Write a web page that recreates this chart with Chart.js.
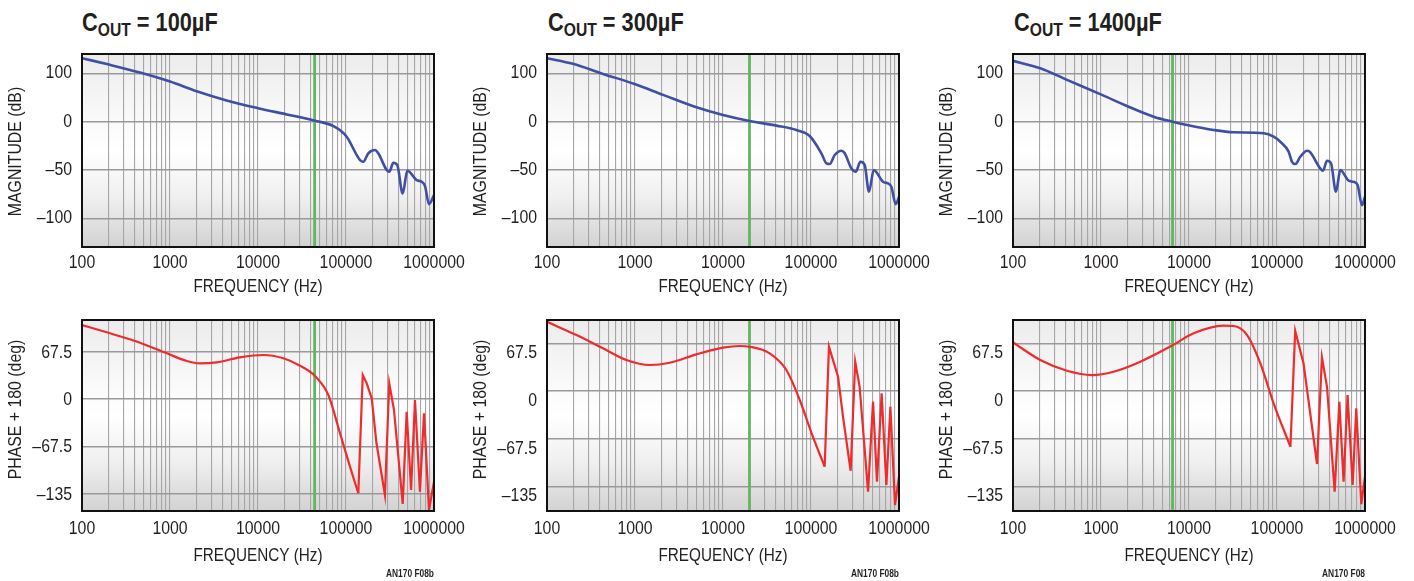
<!DOCTYPE html>
<html>
<head>
<meta charset="utf-8">
<script src="https://cdn.jsdelivr.net/npm/chart.js@4.4.1/dist/chart.umd.min.js"></script>
<style>
  body { margin:0; width:1414px; height:581px; background:#fff; position:relative; overflow:hidden; }
  canvas { position:absolute; }
  .ttl { position:absolute; top:8px; font:bold 25px "Liberation Sans",Arial,sans-serif; color:#231f20; white-space:nowrap;
         transform:scaleX(0.87); transform-origin:left top; }
  .ttl sub { font-size:18px; vertical-align:-5px; line-height:0; }
  .note { position:absolute; top:567px; font:bold 10.5px "Liberation Sans",Arial,sans-serif; color:#231f20; white-space:nowrap;
          transform:scaleX(0.8); transform-origin:right top; text-align:right; width:100px; }
</style>
</head>
<body>
<div class="ttl" style="left:82px">C<sub>OUT</sub> = 100µF</div>
<div class="ttl" style="left:548px">C<sub>OUT</sub> = 300µF</div>
<div class="ttl" style="left:1014px">C<sub>OUT</sub> = 1400µF</div>

<canvas id="mag1" width="470" height="270" style="left:0px;top:40px"></canvas>
<canvas id="mag2" width="470" height="270" style="left:465px;top:40px"></canvas>
<canvas id="mag3" width="470" height="270" style="left:931px;top:40px"></canvas>
<canvas id="ph1" width="470" height="281" style="left:0px;top:300px"></canvas>
<canvas id="ph2" width="470" height="281" style="left:465px;top:300px"></canvas>
<canvas id="ph3" width="470" height="281" style="left:931px;top:300px"></canvas>

<div class="note" style="left:334px">AN170 F08b</div>
<div class="note" style="left:799px">AN170 F08b</div>
<div class="note" style="left:1265px">AN170 F08</div>

<script>
// ---- データ ----
// 周波数グリッド / 目盛
const gridFreqs = [];
[100, 1000, 10000, 100000].forEach(d => { for (let k = 1; k < 10; k++) gridFreqs.push(d * k); });
gridFreqs.push(1000000);
const freqTicks = [100, 1000, 10000, 100000, 1000000];
const freqTickLabels = ["100", "1000", "10000", "100000", "1000000"];

const magTicks = [-100, -50, 0, 50];
const magTickLabels = ["–100", "–50", "0", "100"];
const phTicks = [-135, -67.5, 0, 67.5];
const phTickLabels = ["–135", "–67.5", "0", "67.5"];

// クロスオーバー周波数 (緑線)
const crossFreqs = [44000, 20000, 6500];
// 位相の共振部分(直線で結ぶ)の開始周波数
const phaseKinkFreqs = [138000, 143000, 142000];

// COUT = 100µF
const fMag1 = [100, 208, 456, 1000, 2010, 4400, 10000, 21200, 44400, 71700, 101800, 132400, 144300, 157300, 179200, 213600, 232800, 290000, 310500, 344800, 382800, 440900, 497500, 635600, 724800, 790600, 877500, 1000000];
const mag1 = [65.7, 58.8, 50.8, 41.5, 31.5, 22, 14, 7.5, 1, -4.5, -15.5, -34.5, -39.7, -41.5, -32.7, -29.3, -32.7, -50, -51.8, -42.5, -44.9, -74.2, -50.8, -60.4, -62.2, -66.6, -85.3, -76];
const fPh1 = [100, 208, 456, 920, 1550, 2190, 3390, 6240, 11500, 19400, 30000, 44400, 63000, 85500, 111000, 138000, 155000, 172000, 196000, 222000, 277000, 310000, 351000, 441000, 489000, 549000, 608000, 692000, 770000, 877000, 1000000];
const ph1 = [105.3, 93.5, 80.1, 65, 54.1, 50.8, 52.2, 59.3, 62.6, 57.9, 47.4, 32.7, 5.7, -48.8, -96.3, -134.2, 34.2, 22.3, 1, -63, -136.6, 22.3, -15.7, -149.4, -18.1, -129.5, -1.4, -131.9, -20.4, -158, -117.7];

// COUT = 300µF
const fMag2 = [100, 197, 433, 990, 2090, 4990, 10000, 20000, 40500, 68200, 96600, 131200, 149600, 163100, 185900, 221500, 241600, 287700, 322100, 364200, 407600, 456000, 515800, 658000, 750000, 819700, 917500, 1000000];
const mag2 = [65.7, 59.8, 49.4, 39, 27.7, 14.9, 6.9, 0.7, -4.1, -8.6, -14.8, -32.7, -43.1, -43.8, -34.5, -30, -32.7, -48.3, -51.8, -41.5, -44.9, -72.5, -50, -62.2, -63.9, -67.4, -85.3, -77.7];
const fPh2 = [100, 216, 433, 798, 1470, 2480, 4990, 10000, 15500, 20000, 33900, 52500, 74500, 105000, 143000, 160000, 203000, 231000, 282000, 318000, 357000, 445000, 507000, 562000, 635000, 719000, 798000, 901000, 1000000];
const ph2 = [98, 79.2, 60.4, 43.9, 36.8, 40, 51.9, 61.3, 63.7, 62.7, 53.3, 29.7, -12.7, -64.7, -107, 62.7, 20.2, -36.4, -112.8, 41.5, 6, -142.5, -15.1, -128.3, -3.3, -133, -22.2, -161.3, -121.3];

// COUT = 1400µF
const fMag3 = [100, 204, 411, 1026, 2060, 3960, 6500, 9500, 19000, 32100, 70500, 91500, 109000, 135600, 148000, 161400, 184000, 219000, 235000, 310000, 333000, 370000, 411000, 468000, 524000, 651000, 741000, 824000, 924000, 1000000];
const mag3 = [62.9, 55.3, 43.2, 27.7, 15.5, 5.2, 0, -3.4, -8.6, -11, -12, -15.5, -20.7, -31, -41.5, -43.8, -36.3, -30, -31, -48.3, -50.8, -40.4, -43, -72.5, -50, -61, -62.2, -65.6, -86.3, -77.7];
const fPh3 = [100, 204, 411, 790, 1390, 2800, 6300, 11300, 24700, 32100, 45700, 64700, 91500, 142000, 161000, 200000, 285000, 324000, 370000, 452000, 511000, 571000, 634000, 724000, 795000, 908000, 1000000];
const ph3 = [68.8, 43.9, 28.7, 22.6, 27.3, 41.5, 63.7, 81.6, 92.4, 92, 79.2, 39.2, -17.4, -78.8, 85.3, 39.2, -103.3, 47.7, 6, -142.5, -15.1, -128.3, -5.7, -133, -24.5, -160, -121.3];

// ---- 描画 ----
const FONT = '"Liberation Sans", Arial, sans-serif';
const INK = "#231f20";

// 縦長(コンデンス)文字
function condText(ctx, text, x, y, align, sx, rotate) {
  ctx.save();
  ctx.translate(x, y);
  if (rotate) ctx.rotate(-Math.PI / 2);
  ctx.scale(sx, 1);
  ctx.textAlign = align;
  ctx.textBaseline = "middle";
  ctx.fillText(text, 0, 0);
  ctx.restore();
}

// 背景グラデーション・枠線・文字
const frame = {
  id: "frame",
  beforeDraw(chart) {
    const { ctx, chartArea: a } = chart;
    const g = ctx.createLinearGradient(0, a.top, 0, a.bottom);
    g.addColorStop(0, "#ececec");
    g.addColorStop(0.35, "#fafafa");
    g.addColorStop(0.5, "#ffffff");
    g.addColorStop(0.75, "#efefef");
    g.addColorStop(1, "#d2d2d2");
    ctx.save();
    ctx.fillStyle = g;
    ctx.fillRect(a.left, a.top, a.right - a.left, a.bottom - a.top);
    ctx.restore();
  },
  afterDraw(chart) {
    const { ctx, chartArea: a, scales } = chart;
    const o = chart.options.plugins.frame;
    ctx.save();
    ctx.strokeStyle = "#111";
    ctx.lineWidth = 2;
    ctx.strokeRect(a.left, a.top, a.right - a.left, a.bottom - a.top);

    ctx.fillStyle = INK;
    ctx.font = "18px " + FONT;
    freqTicks.forEach((f, i) => {
      condText(ctx, freqTickLabels[i], scales.x.getPixelForValue(f), a.bottom + o.xTickGap, "center", 0.88);
    });
    o.ticks.forEach((v, i) => {
      condText(ctx, o.tickLabels[i], a.left - 10, scales.y.getPixelForValue(v) + o.labelOffset, "right", 0.88);
    });
    condText(ctx, "FREQUENCY (Hz)", (a.left + a.right) / 2, a.bottom + o.xTitleGap, "center", 0.85);
    condText(ctx, o.yTitle, a.left - 66, (a.top + a.bottom) / 2 + o.yTitleShift, "center", 0.88, true);
    ctx.restore();
  }
};

function makeChart(id, o) {
  const pts = o.freq.map((f, i) => ({ x: f, y: o.vals[i] }));
  const kink = o.kink || Infinity;
  const curve = { borderColor: o.color, borderWidth: o.lineWidth, pointRadius: 0, fill: false };
  const datasets = [
    { ...curve, data: pts.filter(p => p.x <= kink), cubicInterpolationMode: "monotone" },
    { ...curve, data: pts.filter(p => p.x >= kink), tension: 0 },
    {
      data: [{ x: o.cross, y: o.yMin - 50 }, { x: o.cross, y: o.yMax + 50 }],
      borderColor: "#62b562",
      borderWidth: 2.8,
      pointRadius: 0
    }
  ];
  return new Chart(document.getElementById(id), {
    type: "line",
    data: { datasets },
    options: {
      responsive: false,
      animation: false,
      layout: { padding: { left: 0, top: o.padTop, right: 36, bottom: 0 } },
      plugins: {
        legend: { display: false },
        tooltip: { enabled: false },
        frame: o
      },
      scales: {
        x: {
          type: "logarithmic",
          min: 100,
          max: 1000000,
          afterBuildTicks: s => { s.ticks = gridFreqs.map(v => ({ value: v })); },
          afterFit: s => { s.height = o.xAxisH; },
          ticks: { display: false, autoSkip: false },
          grid: { color: "#a6a6a6", lineWidth: 1.1, drawTicks: false },
          border: { display: false }
        },
        y: {
          min: o.yMin,
          max: o.yMax,
          afterBuildTicks: s => { s.ticks = o.ticks.map(v => ({ value: v })); },
          afterFit: s => { s.width = 82; },
          ticks: { display: false },
          grid: { color: "#999999", lineWidth: 1.5, drawTicks: false },
          border: { display: false }
        }
      }
    },
    plugins: [frame]
  });
}

const BLUE = "#3f4fa3";
const RED = "#ef2b2d";

const magCommon = {
  color: BLUE, lineWidth: 2.6, yMin: -129.6, yMax: 70,
  ticks: magTicks, tickLabels: magTickLabels, yTitle: "MAGNITUDE (dB)",
  padTop: 14, xAxisH: 63, xTickGap: 16, xTitleGap: 40, labelOffset: 0, yTitleShift: 1
};
makeChart("mag1", { ...magCommon, freq: fMag1, vals: mag1, cross: crossFreqs[0] });
makeChart("mag2", { ...magCommon, freq: fMag2, vals: mag2, cross: crossFreqs[1] });
makeChart("mag3", { ...magCommon, freq: fMag3, vals: mag3, cross: crossFreqs[2] });

const phCommon = {
  color: RED, lineWidth: 2.2,
  ticks: phTicks, tickLabels: phTickLabels, yTitle: "PHASE + 180 (deg)",
  padTop: 20, xAxisH: 70, xTickGap: 18, xTitleGap: 45, yTitleShift: -6
};
makeChart("ph1", { ...phCommon, freq: fPh1, vals: ph1, cross: crossFreqs[0], kink: phaseKinkFreqs[0], yMin: -159.4, yMax: 112.4, labelOffset: 1 });
makeChart("ph2", { ...phCommon, freq: fPh2, vals: ph2, cross: crossFreqs[1], kink: phaseKinkFreqs[1], yMin: -169.8, yMax: 100.5, labelOffset: 10 });
makeChart("ph3", { ...phCommon, freq: fPh3, vals: ph3, cross: crossFreqs[2], kink: phaseKinkFreqs[2], yMin: -169.8, yMax: 100.5, labelOffset: 10 });
</script>
</body>
</html>
